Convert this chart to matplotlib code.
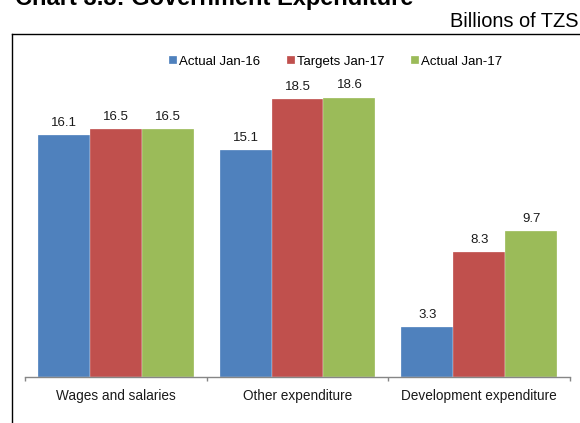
import matplotlib
matplotlib.use("Agg")
import matplotlib.pyplot as plt
import numpy as np
from matplotlib.lines import Line2D

plt.rcParams['font.family'] = ['Liberation Sans', 'DejaVu Sans']

categories = ["Wages and salaries", "Other expenditure", "Development expenditure"]
series_names = ["Actual Jan-16", "Targets Jan-17", "Actual Jan-17"]
actual_jan16 = [16.1, 15.1, 3.3]
targets_jan17 = [16.5, 18.5, 8.3]
actual_jan17 = [16.5, 18.6, 9.7]
colors = ["#4F81BD", "#C0504D", "#9BBB59"]

W, H = 580, 423
fig = plt.figure(figsize=(W / 100, H / 100), dpi=100)

# axes placement (pixels)
ax_left, ax_right = 25, 570
ax_base, ax_top = 376.7, 76.7
ax = fig.add_axes([ax_left / W, 1 - ax_base / H, (ax_right - ax_left) / W, (ax_base - ax_top) / H])

x = np.arange(len(categories))
bw = 0.286
all_series = [actual_jan16, targets_jan17, actual_jan17]
for i, (vals, name, c) in enumerate(zip(all_series, series_names, colors)):
    bars = ax.bar(x + (i - 1) * bw, vals, bw, color=c, label=name, edgecolor='white', linewidth=0.2)
    for b, v in zip(bars, vals):
        ax.annotate(f"{v:.1f}", (b.get_x() + b.get_width() / 2, v), xytext=(0, 4.5),
                    textcoords='offset points', ha='center', va='bottom', fontsize=9.5, color='#1a1a1a')

ax.set_xlim(-0.5, 2.5)
ax.set_ylim(0, 20)
for s in ['top', 'right', 'left']:
    ax.spines[s].set_visible(False)
ax.spines['bottom'].set_color('#868686')
ax.spines['bottom'].set_linewidth(1.0)
ax.set_yticks([])
ax.set_xticks(x)
ax.set_xticklabels(categories, fontsize=9.8, color='#1a1a1a')
ax.tick_params(axis='x', which='major', length=0, pad=8.5)
ax.set_xticks([-0.5, 0.5, 1.5, 2.5], minor=True)
ax.tick_params(axis='x', which='minor', length=3, width=1.0, color='#868686', direction='out')

# legend
handles, labels = ax.get_legend_handles_labels()
fig.legend(handles, labels, loc='center', bbox_to_anchor=(335.5 / W, 1 - 62 / H), ncol=3,
           frameon=False, fontsize=9.5, handlelength=0.58, handleheight=0.58,
           handletextpad=0.16, columnspacing=2.05, borderpad=0)

# frame lines
fig.add_artist(Line2D([12 / W, 12 / W], [0, 1 - 34 / H], color='black', lw=1.0, transform=fig.transFigure))
fig.add_artist(Line2D([12 / W, 1.0], [1 - 34 / H, 1 - 34 / H], color='black', lw=1.0, transform=fig.transFigure))

# titles
fig.text(15 / W, 1 - 5 / H, "Chart 3.3: Government Expenditure", fontsize=17, fontweight='bold',
         ha='left', va='baseline', color='black')
fig.text(579 / W, 1 - 27 / H, "Billions of TZS", fontsize=14.4, ha='right', va='baseline', color='black')

fig.savefig("out.png", dpi=100)
